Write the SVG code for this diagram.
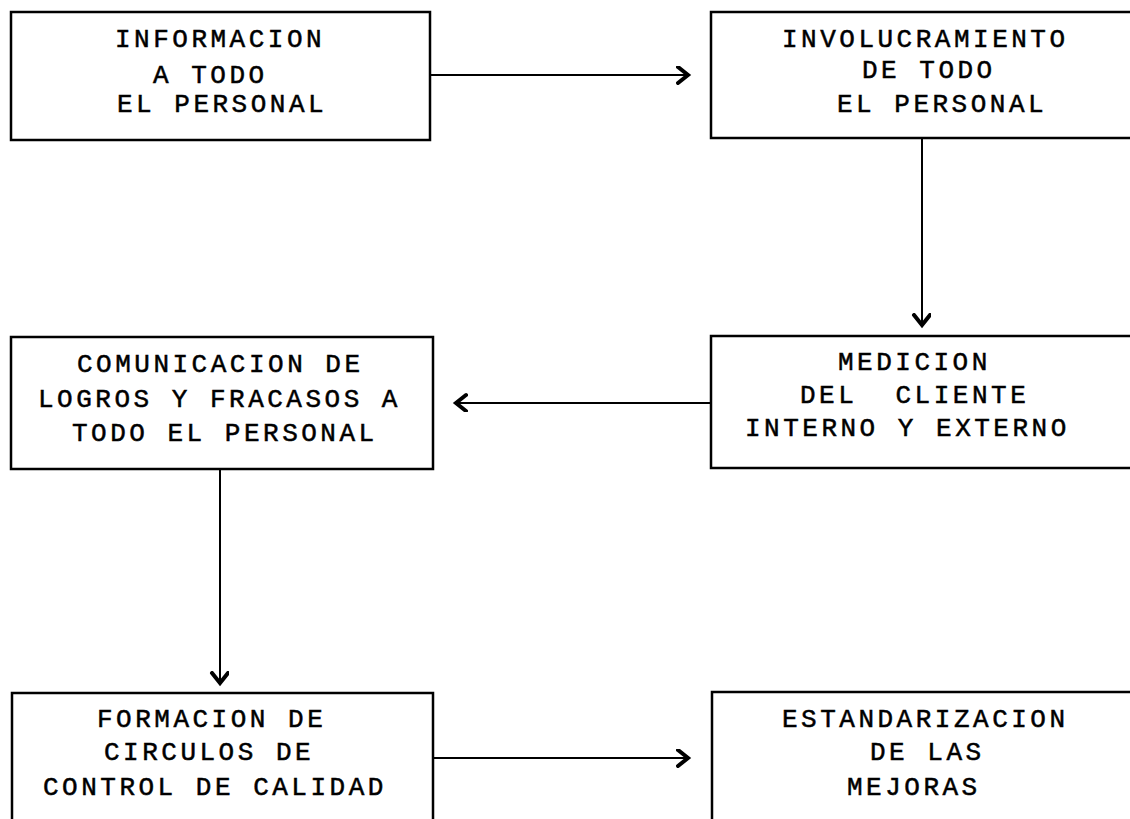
<svg xmlns="http://www.w3.org/2000/svg" width="1130" height="819" viewBox="0 0 1130 819">
<style>
.box{fill:#fff;stroke:#000;stroke-width:2.5}
.t{font-family:"Liberation Mono","Courier New",monospace;font-size:26px;letter-spacing:3.5px;fill:#000;stroke:#000;stroke-width:0.5;white-space:pre}
.c{fill:none;stroke:#000;stroke-width:2}
</style>
<defs>
<marker id="ah" markerUnits="userSpaceOnUse" markerWidth="20" markerHeight="24" refX="12" refY="9" orient="auto">
<path d="M2,1 L12,9 L2,17" fill="none" stroke="#000" stroke-width="4" stroke-linejoin="miter" stroke-linecap="round"/>
</marker>
</defs>
<g id="connectors">
<line class="c" x1="431" y1="75" x2="688" y2="75" marker-end="url(#ah)"/>
<line class="c" x1="922" y1="139" x2="922" y2="325" marker-end="url(#ah)"/>
<line class="c" x1="711" y1="403" x2="456" y2="403" marker-end="url(#ah)"/>
<line class="c" x1="220" y1="469" x2="220" y2="683" marker-end="url(#ah)"/>
<line class="c" x1="433" y1="758" x2="688" y2="758" marker-end="url(#ah)"/>
</g>
<g id="n1">
<rect class="box" x="11" y="12" width="419" height="128"/>
<text class="t" x="115" y="47">INFORMACION</text>
<text class="t" x="153" y="83">A TODO</text>
<text class="t" x="117" y="112">EL PERSONAL</text>
</g>
<g id="n2">
<rect class="box" x="711" y="12" width="440" height="126"/>
<text class="t" x="782" y="47">INVOLUCRAMIENTO</text>
<text class="t" x="862" y="78">DE TODO</text>
<text class="t" x="837" y="112">EL PERSONAL</text>
</g>
<g id="n3">
<rect class="box" x="711" y="336" width="440" height="132"/>
<text class="t" x="838" y="370">MEDICION</text>
<text class="t" x="800" y="403" xml:space="preserve">DEL  CLIENTE</text>
<text class="t" x="745" y="436">INTERNO Y EXTERNO</text>
</g>
<g id="n4">
<rect class="box" x="11" y="337" width="422" height="132"/>
<text class="t" x="77" y="372">COMUNICACION DE</text>
<text class="t" x="38" y="407">LOGROS Y FRACASOS A</text>
<text class="t" x="72" y="441">TODO EL PERSONAL</text>
</g>
<g id="n5">
<rect class="box" x="12" y="693" width="421" height="140"/>
<text class="t" x="97" y="727">FORMACION DE</text>
<text class="t" x="104" y="760">CIRCULOS DE</text>
<text class="t" x="43" y="795">CONTROL DE CALIDAD</text>
</g>
<g id="n6">
<rect class="box" x="712" y="692" width="440" height="140"/>
<text class="t" x="782" y="727">ESTANDARIZACION</text>
<text class="t" x="870" y="760">DE LAS</text>
<text class="t" x="847" y="795">MEJORAS</text>
</g>
</svg>
